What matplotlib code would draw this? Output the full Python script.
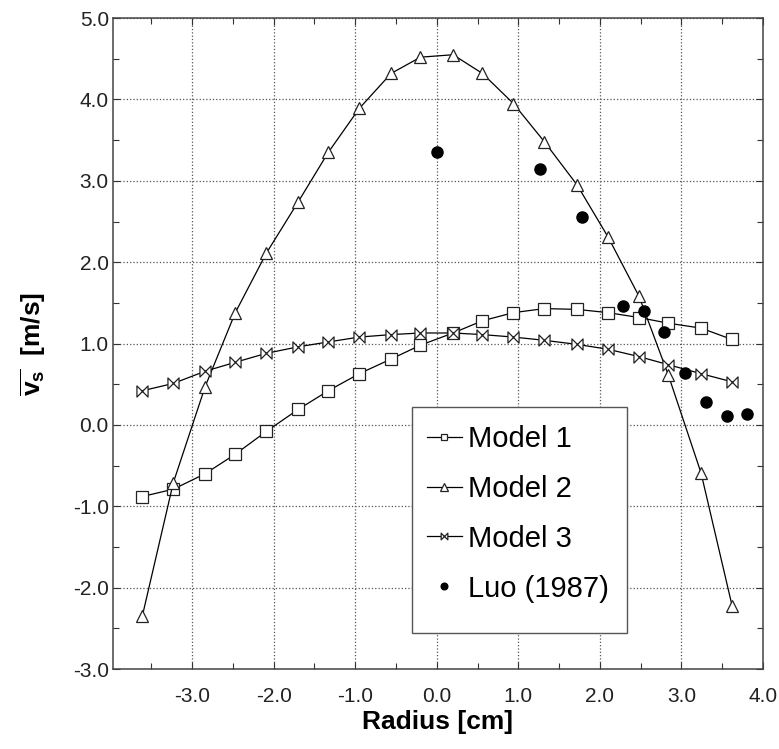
import matplotlib
matplotlib.use("Agg")
import matplotlib.pyplot as plt
from matplotlib.path import Path
from matplotlib.patches import Rectangle
from matplotlib.ticker import MultipleLocator, FormatStrFormatter

plt.rcParams['font.family'] = ['Liberation Sans', 'DejaVu Sans']
plt.rcParams['mathtext.fontset'] = 'custom'
plt.rcParams['mathtext.rm'] = 'Liberation Sans'
plt.rcParams['mathtext.bf'] = 'Liberation Sans:bold'

# ---- data ----
radius = [-3.61, -3.23, -2.84, -2.47, -2.09, -1.70, -1.33, -0.95, -0.56, -0.20,
          0.20, 0.56, 0.94, 1.32, 1.72, 2.10, 2.48, 2.84, 3.24, 3.62]
model1 = [-0.88, -0.79, -0.60, -0.36, -0.08, 0.19, 0.42, 0.63, 0.81, 0.98,
          1.13, 1.28, 1.38, 1.43, 1.42, 1.38, 1.32, 1.25, 1.19, 1.05]
model2 = [-2.35, -0.71, 0.47, 1.38, 2.11, 2.74, 3.35, 3.89, 4.32, 4.52,
          4.55, 4.32, 3.95, 3.48, 2.95, 2.31, 1.58, 0.61, -0.59, -2.22]
model3 = [0.42, 0.51, 0.66, 0.77, 0.88, 0.96, 1.02, 1.08, 1.11, 1.13,
          1.13, 1.11, 1.08, 1.04, 0.99, 0.93, 0.84, 0.74, 0.63, 0.53]
luo_r = [0.00, 1.27, 1.78, 2.28, 2.54, 2.78, 3.04, 3.30, 3.56, 3.80]
luo_v = [3.36, 3.14, 2.56, 1.46, 1.40, 1.14, 0.64, 0.28, 0.11, 0.13]

labels = ['Model 1', 'Model 2', 'Model 3', 'Luo (1987)']
xticks = [-3.0, -2.0, -1.0, 0.0, 1.0, 2.0, 3.0, 4.0]
yticks = [-3.0, -2.0, -1.0, 0.0, 1.0, 2.0, 3.0, 4.0, 5.0]

# bowtie marker
bowtie = Path([(-1, -1), (-1, 1), (1, -1), (1, 1), (-1, -1)],
              [Path.MOVETO, Path.LINETO, Path.LINETO, Path.LINETO, Path.CLOSEPOLY])

fig = plt.figure(figsize=(7.79, 7.49), dpi=100)
ax = fig.add_axes([0.145, 0.1068, 0.8345, 0.869])

lw = 0.9
ax.plot(radius, model1, '-', color='black', lw=lw, marker='s', ms=8,
        mfc='white', mec='#222222', mew=0.9, label=labels[0], zorder=3)
ax.plot(radius, model2, '-', color='black', lw=lw, marker='^', ms=9,
        mfc='white', mec='#222222', mew=0.9, label=labels[1], zorder=3)
ax.plot(radius, model3, '-', color='black', lw=lw, marker=bowtie, ms=8,
        mfc='white', mec='#222222', mew=0.9, label=labels[2], zorder=3)
ax.plot(luo_r, luo_v, 'o', color='black', ms=8, label=labels[3],
        linestyle='none', zorder=4)

ax.set_xlim(-3.97, 4.0)
ax.set_ylim(-3.0, 5.0)
ax.set_xticks(xticks)
ax.set_yticks(yticks)
ax.xaxis.set_minor_locator(MultipleLocator(0.5))
ax.yaxis.set_minor_locator(MultipleLocator(0.5))
ax.xaxis.set_major_formatter(FormatStrFormatter('%.1f'))
ax.yaxis.set_major_formatter(FormatStrFormatter('%.1f'))
ax.tick_params(which='both', direction='in', top=True, right=True,
               labelsize=15, colors='#333333', labelcolor='#222222')
ax.tick_params(which='major', length=5, width=0.8)
ax.tick_params(which='minor', length=4, width=0.8)
ax.tick_params(axis='x', which='major', pad=13)
ax.tick_params(axis='y', which='major', pad=3)
ax.grid(True, which='major', linestyle=':', color='#555555', lw=0.9, zorder=0)
for s in ax.spines.values():
    s.set_color('#444444')
    s.set_linewidth(1.1)

ax.set_xlabel('Radius [cm]', fontsize=19, fontweight='bold', labelpad=3)
ax.set_ylabel(r'$\overline{\mathbf{v_s}}$  [m/s]', fontsize=19,
              fontweight='bold', labelpad=18)

# legend frame drawn as a separate box (reference has asymmetric padding)
box = Rectangle((0.46, 0.0553), 0.331, 0.3472, transform=ax.transAxes,
                facecolor='white', edgecolor='#555555', lw=1.0, zorder=5)
ax.add_patch(box)
leg = ax.legend(loc='upper left', bbox_to_anchor=(0.483, 0.375), fontsize=21,
                frameon=False, markerscale=0.6, handlelength=1.2,
                handletextpad=0.2, labelspacing=0.75, borderpad=0.0,
                borderaxespad=0)
leg.set_zorder(6)

fig.savefig('out.png', dpi=100)
